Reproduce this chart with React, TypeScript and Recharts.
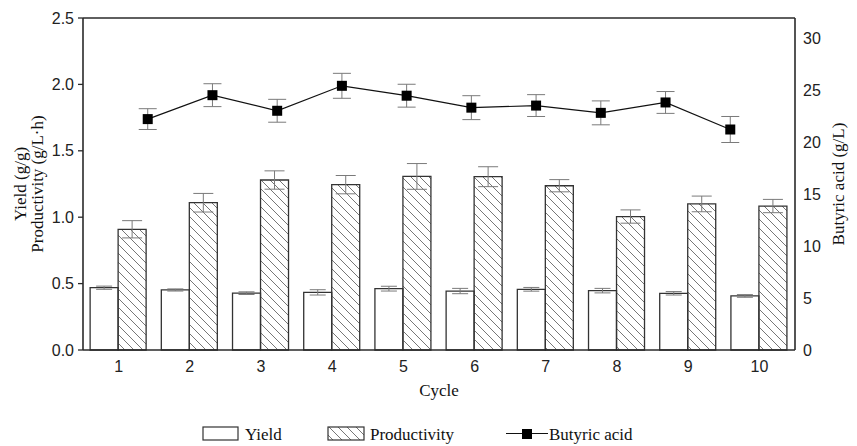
import React from 'react';
import {
  ComposedChart,
  Bar,
  Line,
  XAxis,
  YAxis,
  ErrorBar,
  ReferenceLine,
  Legend,
} from 'recharts';

const cycles = ['1', '2', '3', '4', '5', '6', '7', '8', '9', '10'];
const cycleNums = [1, 2, 3, 4, 5, 6, 7, 8, 9, 10];
const yieldVals = [0.469, 0.452, 0.428, 0.434, 0.462, 0.444, 0.457, 0.447, 0.427, 0.407];
const yieldErr = [0.012, 0.008, 0.01, 0.02, 0.018, 0.02, 0.014, 0.017, 0.013, 0.01];
const prodVals = [0.909, 1.109, 1.28, 1.245, 1.307, 1.305, 1.237, 1.005, 1.1, 1.084];
const prodErr = [0.065, 0.07, 0.069, 0.069, 0.097, 0.075, 0.046, 0.05, 0.059, 0.05];
const butyric = [22.2, 24.5, 23.0, 25.4, 24.45, 23.3, 23.5, 22.8, 23.8, 21.2];
const butyricErr = [1.0, 1.1, 1.1, 1.2, 1.1, 1.15, 1.05, 1.15, 1.05, 1.25];

const leftTicks = [0, 0.5, 1.0, 1.5, 2.0, 2.5];
const leftMinorTicks = [0, 0.25, 0.5, 0.75, 1.0, 1.25, 1.5, 1.75, 2.0, 2.25, 2.5];
const rightTicks = [0, 5, 10, 15, 20, 25, 30];
const rightMinorTicks = [0, 2.5, 5, 7.5, 10, 12.5, 15, 17.5, 20, 22.5, 25, 27.5, 30];

const data = cycles.map((c, i) => ({
  cycle: c,
  cycleNum: cycleNums[i],
  yield: yieldVals[i],
  yieldErr: yieldErr[i],
  prod: prodVals[i],
  prodErr: prodErr[i],
  butyric: butyric[i],
  butyricErr: butyricErr[i],
}));

const SANS = '"Liberation Sans", Arial, sans-serif';
const SERIF = '"Liberation Serif", "Times New Roman", serif';
const AXIS = '#2a2a2a';
const ERR = '#7a7a7a';

const SquareDot = (props: any) => {
  const { cx, cy } = props;
  if (cx == null || cy == null) return null;
  return <rect x={cx - 5} y={cy - 5} width={10} height={10} fill="#000" />;
};

const LeftLabel = (props: any) => {
  const vb = props.viewBox || {};
  const cy = (vb.y || 0) + (vb.height || 0) / 2;
  return (
    <g>
      <text
        transform={`translate(26, ${cy}) rotate(-90)`}
        textAnchor="middle"
        fontFamily={SERIF}
        fontSize={17}
        fill="#111"
      >
        Yield (g/g)
      </text>
      <text
        transform={`translate(43, ${cy}) rotate(-90)`}
        textAnchor="middle"
        fontFamily={SERIF}
        fontSize={17}
        fill="#111"
      >
        Productivity (g/L·h)
      </text>
    </g>
  );
};

const RightLabel = (props: any) => {
  const vb = props.viewBox || {};
  const cy = (vb.y || 0) + (vb.height || 0) / 2;
  return (
    <text
      transform={`translate(844, ${cy}) rotate(-90)`}
      textAnchor="middle"
      fontFamily={SERIF}
      fontSize={17}
      fill="#111"
    >
      Butyric acid (g/L)
    </text>
  );
};

const BottomLabel = (props: any) => {
  const vb = props.viewBox || {};
  const cx = (vb.x || 0) + (vb.width || 0) / 2;
  return (
    <text x={cx} y={396} textAnchor="middle" fontFamily={SERIF} fontSize={17} fill="#111">
      Cycle
    </text>
  );
};

const LegendContent = () => (
  <svg width={857} height={24} style={{ display: 'block' }}>
    <defs>
      <pattern id="hatchLegend" patternUnits="userSpaceOnUse" width={9} height={9}>
        <path d="M-1,-1 L10,10 M-1,8 L1,10 M8,-1 L10,1" stroke="#777" strokeWidth={1} />
      </pattern>
    </defs>
    <rect x={203} y={5} width={35} height={13} fill="#fff" stroke="#333" strokeWidth={1.2} />
    <text x={245} y={18} fontFamily={SERIF} fontSize={17} fill="#111">Yield</text>
    <rect x={328} y={5} width={36} height={13} fill="url(#hatchLegend)" stroke="#333" strokeWidth={1.2} />
    <text x={370} y={18} fontFamily={SERIF} fontSize={17} fill="#111">Productivity</text>
    <line x1={506} y1={11.5} x2={548} y2={11.5} stroke="#111" strokeWidth={1.2} />
    <rect x={522} y={7} width={10} height={10} fill="#000" />
    <text x={549} y={18} fontFamily={SERIF} fontSize={17} fill="#111">Butyric acid</text>
  </svg>
);

export default function App() {
  return (
    <div style={{ position: 'absolute', left: 0, top: 0, width: 857, height: 446, background: '#fff' }}>
      <ComposedChart
        width={857}
        height={446}
        data={data}
        margin={{ top: 18, right: 0, bottom: 0, left: 0 }}
        barCategoryGap="10%"
        barGap={0}
      >
        <defs>
          <pattern id="hatch" patternUnits="userSpaceOnUse" width={9} height={9}>
            <path d="M-1,-1 L10,10 M-1,8 L1,10 M8,-1 L10,1" stroke="#777" strokeWidth={1} />
          </pattern>
        </defs>
        <XAxis
          xAxisId="cat"
          dataKey="cycle"
          type="category"
          height={72}
          tickLine={false}
          tickSize={0}
          tickMargin={11}
          axisLine={{ stroke: AXIS, strokeWidth: 1.6 }}
          tick={{ fontFamily: SANS, fontSize: 16, fill: '#222' }}
          interval={0}
          label={<BottomLabel />}
        />
        <XAxis xAxisId="num" dataKey="cycleNum" type="number" domain={[0, 11]} hide />
        <YAxis
          yAxisId="left"
          orientation="left"
          width={83}
          domain={[0, 2.5]}
          ticks={leftTicks}
          tickFormatter={(v: number) => v.toFixed(1)}
          interval={0}
          tickSize={5}
          tickMargin={4}
          tickLine={{ stroke: AXIS, strokeWidth: 1.3 }}
          axisLine={{ stroke: AXIS, strokeWidth: 1.6 }}
          tick={{ fontFamily: SANS, fontSize: 16, fill: '#222' }}
          label={<LeftLabel />}
        />
        <YAxis
          yAxisId="leftMinor"
          orientation="left"
          mirror
          domain={[0, 2.5]}
          ticks={leftMinorTicks}
          interval={0}
          tick={false}
          tickSize={4}
          tickLine={{ stroke: AXIS, strokeWidth: 1.2 }}
          axisLine={false}
        />
        <YAxis
          yAxisId="right"
          orientation="right"
          width={62}
          domain={[0, 31.92]}
          ticks={rightTicks}
          interval={0}
          tickSize={0}
          tickMargin={8}
          tickLine={false}
          axisLine={{ stroke: AXIS, strokeWidth: 1.6 }}
          tick={{ fontFamily: SANS, fontSize: 16, fill: '#222' }}
          label={<RightLabel />}
        />
        <YAxis
          yAxisId="rightMinor"
          orientation="right"
          mirror
          domain={[0, 31.92]}
          ticks={rightMinorTicks}
          interval={0}
          tick={false}
          tickSize={5}
          tickLine={{ stroke: AXIS, strokeWidth: 1.2 }}
          axisLine={false}
        />
        <ReferenceLine yAxisId="left" xAxisId="cat" y={2.5} stroke={AXIS} strokeWidth={1.6} />
        <Bar
          xAxisId="cat"
          yAxisId="left"
          dataKey="yield"
          name="Yield"
          fill="#fff"
          stroke="#333"
          strokeWidth={1.3}
          isAnimationActive={false}
        >
          <ErrorBar dataKey="yieldErr" width={8} stroke={ERR} strokeWidth={1} direction="y" />
        </Bar>
        <Bar
          xAxisId="cat"
          yAxisId="left"
          dataKey="prod"
          name="Productivity"
          fill="url(#hatch)"
          stroke="#333"
          strokeWidth={1.3}
          isAnimationActive={false}
        >
          <ErrorBar dataKey="prodErr" width={10} stroke={ERR} strokeWidth={1} direction="y" />
        </Bar>
        <Line
          xAxisId="num"
          yAxisId="right"
          dataKey="butyric"
          name="Butyric acid"
          stroke="#111"
          strokeWidth={1.2}
          dot={<SquareDot />}
          activeDot={false}
          isAnimationActive={false}
        >
          <ErrorBar dataKey="butyricErr" width={9} stroke={ERR} strokeWidth={1} direction="y" />
        </Line>
        <Legend
          verticalAlign="bottom"
          align="left"
          content={<LegendContent />}
          wrapperStyle={{ left: 0, width: 857, margin: 0, padding: 0 }}
        />
      </ComposedChart>
    </div>
  );
}
